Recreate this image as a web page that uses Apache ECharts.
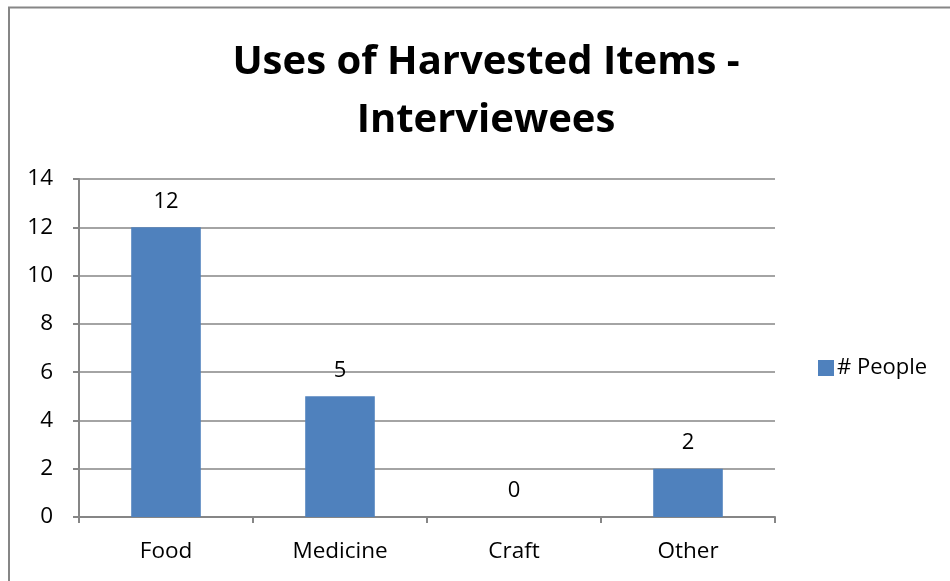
<!DOCTYPE html>
<html><head><meta charset="utf-8">
<script src="https://cdn.jsdelivr.net/npm/echarts@6/dist/echarts.min.js"></script>
<style>html,body{margin:0;padding:0;background:#fff}#c{width:950px;height:581px}</style>
</head><body><div id="c"></div>
<script>
const categories = ["Food", "Medicine", "Craft", "Other"];
const people = [12, 5, 0, 2];
const yTicks = [0, 14, 2];
const FONT = "'Open Sans', 'Liberation Sans', sans-serif";
const chart = echarts.init(document.getElementById('c'), null, {renderer: 'canvas'});
chart.setOption({
  animation: false,
  backgroundColor: '#fff',
  graphic: [{type: 'rect', shape: {x: 9, y: 7.5, width: 960, height: 600},
    style: {fill: 'none', stroke: '#868686', lineWidth: 2}, silent: true}],
  title: {
    text: 'Uses of Harvested Items -\nInterviewees',
    left: 486, top: 34, textAlign: 'center', padding: 0,
    textStyle: {fontFamily: FONT, fontWeight: 'bold', fontSize: 40, lineHeight: 58, color: '#000'}
  },
  legend: {
    data: ['# People'], left: 818, top: 357, itemWidth: 16, itemHeight: 16, itemGap: 5,
    icon: 'rect', padding: 0,
    textStyle: {fontFamily: FONT, fontSize: 22, color: '#000', padding: [0, 0, 0, -2]}
  },
  grid: {left: 79, right: 175, top: 179, bottom: 64, containLabel: false},
  xAxis: {
    type: 'category', data: categories,
    axisLine: {lineStyle: {color: '#868686', width: 2}},
    axisTick: {show: true, length: 6, alignWithLabel: false, lineStyle: {color: '#868686', width: 2}},
    axisLabel: {fontFamily: FONT, fontSize: 22.5, color: '#000', margin: 23}
  },
  yAxis: {
    type: 'value', min: yTicks[0], max: yTicks[1], interval: yTicks[2],
    axisLine: {show: true, lineStyle: {color: '#868686', width: 2}},
    axisTick: {show: true, length: 6, lineStyle: {color: '#868686', width: 2}},
    splitLine: {lineStyle: {color: '#868686', width: 1.5}},
    axisLabel: {fontFamily: FONT, fontSize: 22.5, color: '#000', margin: 26}
  },
  series: [{
    name: '# People', type: 'bar', data: people, barWidth: '40%',
    itemStyle: {color: '#4F81BD'},
    label: {show: true, position: 'top', distance: 15, fontFamily: FONT, fontSize: 22, color: '#000'}
  }]
});
</script></body></html>
